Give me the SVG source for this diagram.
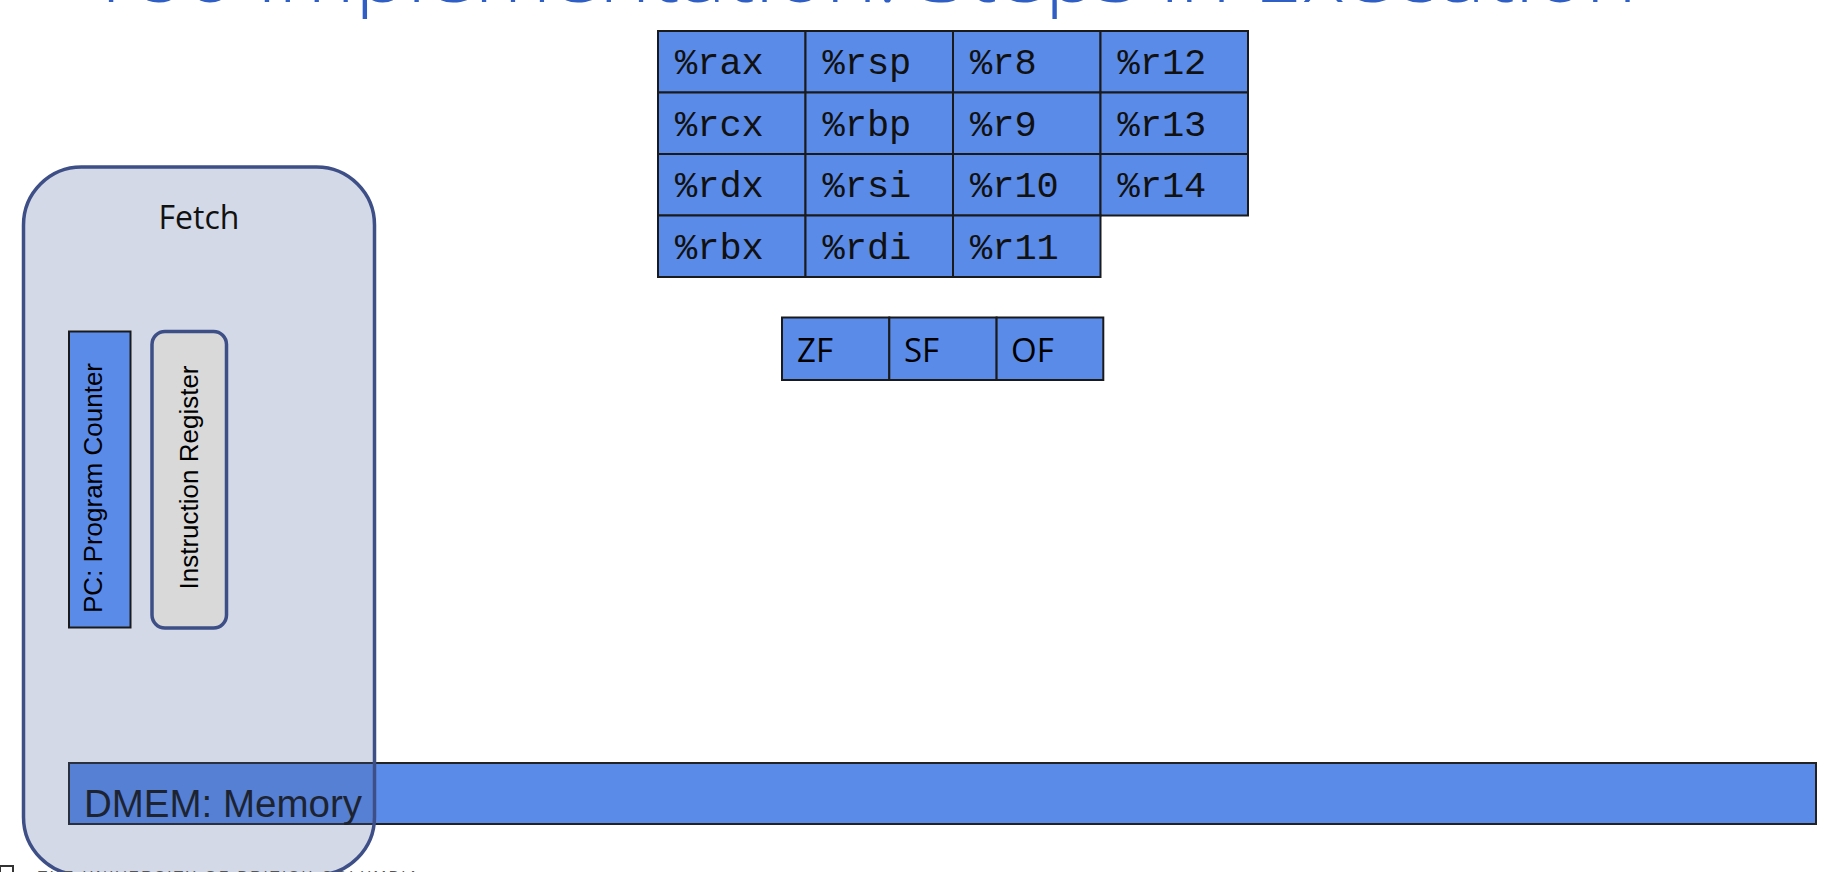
<svg xmlns="http://www.w3.org/2000/svg" width="1840" height="872" viewBox="0 0 1840 872">
<style>
.reg{fill:#5B8BE8;stroke:#1a1a1a;stroke-width:2}
.rt{font-family:"Liberation Mono","Courier New",monospace;font-size:37px;fill:#111}
.ft{font-family:"Open Sans","Noto Sans",sans-serif;font-size:33px;fill:#000}
.vt{font-family:"Liberation Sans",Arial,sans-serif;font-size:26px;fill:#000}
</style>
<rect width="1840" height="872" fill="#fff"/>
<text id="title" x="88" y="2" font-family="Open Sans, sans-serif" font-weight="300" font-size="72" fill="#2F5EC4" textLength="1549" lengthAdjust="spacingAndGlyphs">Y86 Implementation: Steps in Execution</text>

<g id="registers">
<rect class="reg" x="658" y="31" width="147.5" height="61.5"/>
<rect class="reg" x="805.5" y="31" width="147.5" height="61.5"/>
<rect class="reg" x="953" y="31" width="147.5" height="61.5"/>
<rect class="reg" x="1100.5" y="31" width="147.5" height="61.5"/>
<rect class="reg" x="658" y="92.5" width="147.5" height="61.5"/>
<rect class="reg" x="805.5" y="92.5" width="147.5" height="61.5"/>
<rect class="reg" x="953" y="92.5" width="147.5" height="61.5"/>
<rect class="reg" x="1100.5" y="92.5" width="147.5" height="61.5"/>
<rect class="reg" x="658" y="154" width="147.5" height="61.5"/>
<rect class="reg" x="805.5" y="154" width="147.5" height="61.5"/>
<rect class="reg" x="953" y="154" width="147.5" height="61.5"/>
<rect class="reg" x="1100.5" y="154" width="147.5" height="61.5"/>
<rect class="reg" x="658" y="215.5" width="147.5" height="61.5"/>
<rect class="reg" x="805.5" y="215.5" width="147.5" height="61.5"/>
<rect class="reg" x="953" y="215.5" width="147.5" height="61.5"/>
<text class="rt" x="675" y="74">%rax</text>
<text class="rt" x="822.5" y="74">%rsp</text>
<text class="rt" x="970" y="74">%r8</text>
<text class="rt" x="1117.5" y="74">%r12</text>
<text class="rt" x="675" y="135.5">%rcx</text>
<text class="rt" x="822.5" y="135.5">%rbp</text>
<text class="rt" x="970" y="135.5">%r9</text>
<text class="rt" x="1117.5" y="135.5">%r13</text>
<text class="rt" x="675" y="197">%rdx</text>
<text class="rt" x="822.5" y="197">%rsi</text>
<text class="rt" x="970" y="197">%r10</text>
<text class="rt" x="1117.5" y="197">%r14</text>
<text class="rt" x="675" y="258.5">%rbx</text>
<text class="rt" x="822.5" y="258.5">%rdi</text>
<text class="rt" x="970" y="258.5">%r11</text>
</g>

<g id="flags">
<rect class="reg" x="782" y="317.5" width="107.3" height="62.5"/>
<rect class="reg" x="889.3" y="317.5" width="107.3" height="62.5"/>
<rect class="reg" x="996.6" y="317.5" width="106.7" height="62.5"/>
<text class="ft" x="797" y="362">ZF</text>
<text class="ft" x="904" y="362">SF</text>
<text class="ft" x="1011" y="362">OF</text>
</g>

<g id="dmem">
<rect x="69" y="763" width="1747" height="61" fill="#5B8BE8" stroke="#222" stroke-width="2"/>
<text x="84" y="816.5" font-family="Liberation Sans, Arial, sans-serif" font-size="38.5" fill="#111">DMEM: Memory</text>
</g>

<g id="fetch">
<rect x="23.5" y="167" width="351" height="708" rx="58" ry="58" fill="rgb(70,95,150)" fill-opacity="0.24" stroke="#3D4F86" stroke-width="3.5"/>
<text x="199" y="229" text-anchor="middle" font-family="Open Sans, Noto Sans, sans-serif" font-size="32" fill="#111">Fetch</text>
</g>

<g id="pc">
<rect x="69" y="331.5" width="61.5" height="296" fill="#5B8BE8" stroke="#1a1a1a" stroke-width="2"/>
<text class="vt" transform="translate(102,488) rotate(-90)" text-anchor="middle">PC: Program Counter</text>
</g>

<g id="ir">
<rect x="152" y="331.5" width="74.5" height="296.5" rx="13" ry="13" fill="#D9D9D9" stroke="#3D4F86" stroke-width="3.5"/>
<text class="vt" transform="translate(198,477.5) rotate(-90)" text-anchor="middle">Instruction Register</text>
</g>

<g id="footer">
<rect x="0" y="866" width="13" height="13" fill="#fff" stroke="#333" stroke-width="2"/>
<text x="38" y="881" font-family="Liberation Sans, Arial, sans-serif" font-size="15" fill="#555" textLength="380" lengthAdjust="spacing">THE UNIVERSITY OF BRITISH COLUMBIA</text>
</g>
<g id="connectors"></g>
</svg>
